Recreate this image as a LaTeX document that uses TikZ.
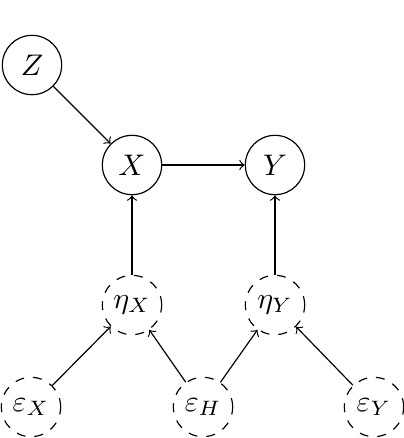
\documentclass[tikz,border=0pt]{standalone}
\usetikzlibrary{arrows}
\begin{document}
\begin{tikzpicture}[x=0.0118cm,y=-0.0118cm,
  obs/.style={circle,draw,minimum size=0.70cm,inner sep=0pt},
  lat/.style={circle,draw,dashed,minimum size=0.70cm,inner sep=0pt},
  edge/.style={->}]
\useasboundingbox (0,0) rectangle (404,438);
\node[obs] (Z) at (32,65) {$Z$};
\node[obs] (X) at (132,165) {$X$};
\node[obs] (Y) at (275,165) {$Y$};
\node[lat] (hX) at (132,305) {$\eta_X$};
\node[lat] (hY) at (275,305) {$\eta_Y$};
\node[lat] (eX) at (31,407) {$\varepsilon_X$};
\node[lat] (eH) at (203,407) {$\varepsilon_H$};
\node[lat] (eY) at (374,407) {$\varepsilon_Y$};
\draw[edge] (Z) -- (X);
\draw[edge] (X) -- (Y);
\draw[edge] (hX) -- (X);
\draw[edge] (hY) -- (Y);
\draw[edge] (eX) -- (hX);
\draw[edge] (eH) -- (hX);
\draw[edge] (eH) -- (hY);
\draw[edge] (eY) -- (hY);
\end{tikzpicture}
\end{document}
